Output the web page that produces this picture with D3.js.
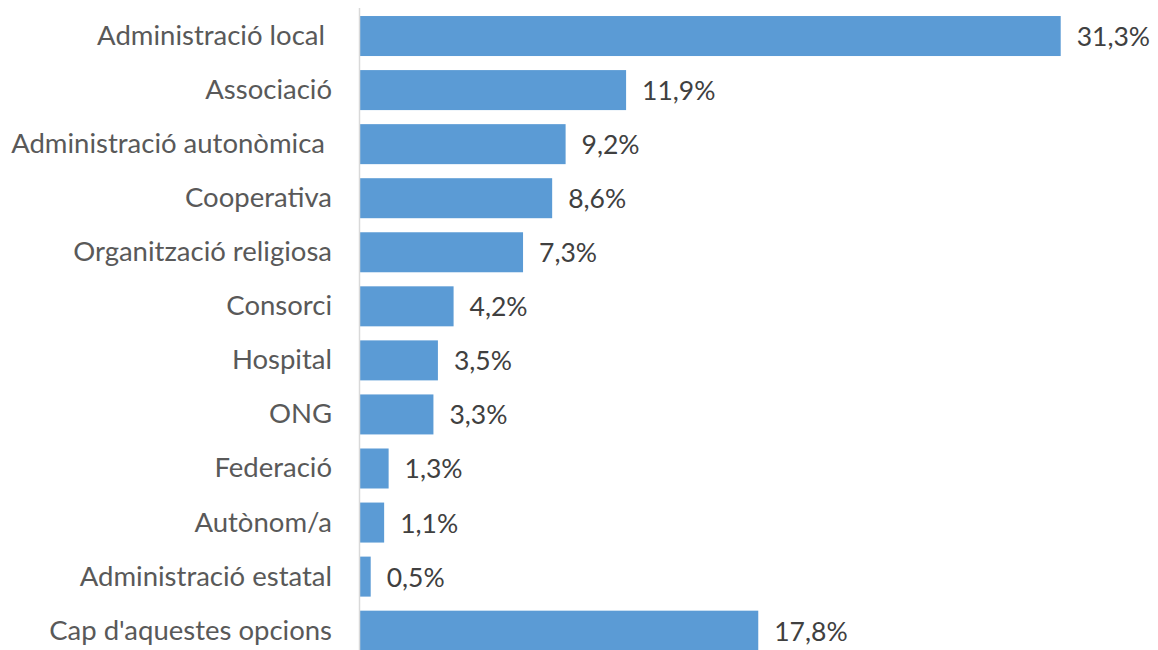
<!DOCTYPE html>
<html><head><meta charset="utf-8">
<script src="https://cdn.jsdelivr.net/npm/d3@7"></script>
<style>body{margin:0;background:#fff;} svg{display:block;} text{white-space:pre;}</style>
</head><body>
<svg id="chart" width="1158" height="650"></svg>
<script>
const categories = ["Administració local ", "Associació", "Administració autonòmica ", "Cooperativa", "Organització religiosa", "Consorci", "Hospital", "ONG", "Federació", "Autònom/a", "Administració estatal", "Cap d'aquestes opcions"];
const values = [31.3, 11.9, 9.2, 8.6, 7.3, 4.2, 3.5, 3.3, 1.3, 1.1, 0.5, 17.8];
const valueLabels = ["31,3%", "11,9%", "9,2%", "8,6%", "7,3%", "4,2%", "3,5%", "3,3%", "1,3%", "1,1%", "0,5%", "17,8%"];

const svg = d3.select("#chart");
const x0 = 359.5;
const x = d3.scaleLinear().domain([0, 31.3]).range([x0, 1060.7]);
const y = d3.scaleBand().domain(categories).range([9, 657.7]).paddingInner(0.26).paddingOuter(0.13);
const font = "Lato, 'Open Sans', sans-serif";

svg.selectAll("rect.bar").data(values).join("rect")
  .attr("class", "bar")
  .attr("x", x0 + 0.5)
  .attr("y", (d, i) => y(categories[i]))
  .attr("width", d => x(d) - x0 - 0.5)
  .attr("height", y.bandwidth())
  .attr("fill", "#5B9BD5");

svg.append("line").attr("x1", x0).attr("x2", x0).attr("y1", 8).attr("y2", 650)
  .attr("stroke", "#D9D9D9").attr("stroke-width", 1.5);

svg.selectAll("text.cat").data(categories).join("text")
  .attr("class", "cat")
  .attr("x", 332)
  .attr("y", d => y(d) + y.bandwidth() / 2 + 9)
  .attr("text-anchor", "end")
  .attr("font-family", font)
  .attr("font-size", 27.5)
  .attr("fill", "#595959")
  .text(d => d);

svg.selectAll("text.val").data(values).join("text")
  .attr("class", "val")
  .attr("x", d => x(d) + 16)
  .attr("y", (d, i) => y(categories[i]) + y.bandwidth() / 2 + 10)
  .attr("font-family", font)
  .attr("font-size", 26.5)
  .attr("fill", "#404040")
  .text((d, i) => valueLabels[i]);
</script>
</body></html>
